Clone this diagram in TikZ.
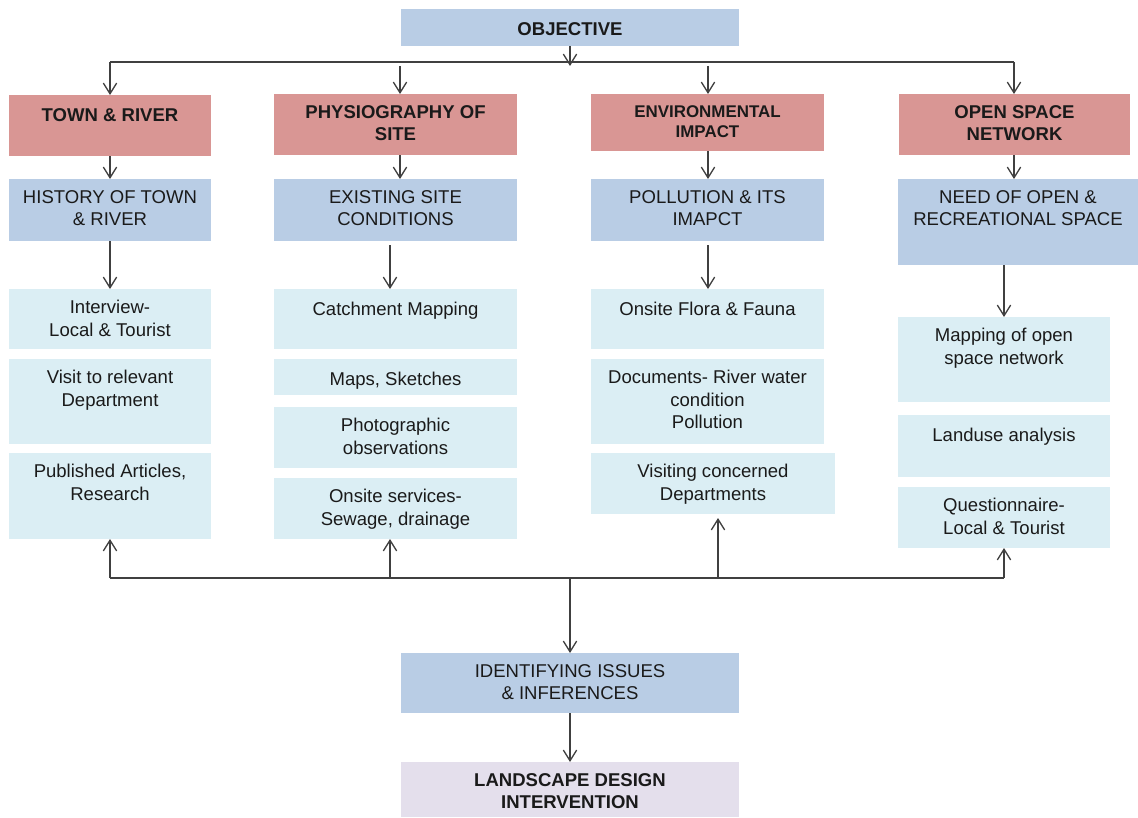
\documentclass[tikz,border=0pt]{standalone}
\usepackage{fontspec}
\setmainfont{Liberation Sans}
\usetikzlibrary{arrows.meta,fit}
\definecolor{cblue}{HTML}{B9CDE5}
\definecolor{cred}{HTML}{D99694}
\definecolor{clight}{HTML}{DBEEF4}
\definecolor{clav}{HTML}{E4DFEC}
\definecolor{cline}{HTML}{404040}
\definecolor{ctext}{HTML}{1A1A1A}
\begin{document}
\begin{tikzpicture}[x=0.75pt,y=-0.75pt,
  bx/.style={inner sep=0pt, outer sep=0pt, draw=none},
  bluebox/.style={bx, fill=cblue},
  redbox/.style={bx, fill=cred},
  lightbox/.style={bx, fill=clight},
  lavbox/.style={bx, fill=clav},
  tx/.style={anchor=north, inner sep=0pt, yshift=-8.2pt, align=center, text=ctext,
    font=\fontsize{13.9}{16.9}\selectfont, execute at begin node=\strut},
  tb/.style={tx, font=\fontsize{13.9}{16.9}\selectfont\bfseries},
  arr/.style={draw=cline, line width=1pt, -{Straight Barb[length=8pt,width=10pt]}},
  ln/.style={draw=cline, line width=1pt}]
\useasboundingbox (0,0) rectangle (1138,817);

% top
\node[bluebox, fit={(401,9)(739,46)}, label={[tb]north:{OBJECTIVE}}] (obj) {};

% red titles
\node[redbox, fit={(9,95)(211,156)}, label={[tb]north:{TOWN \& RIVER}}] (tr) {};
\node[redbox, fit={(274,94)(517,155)}, label={[tb]north:{PHYSIOGRAPHY OF\\SITE}}] (ps) {};
\node[redbox, fit={(591,94)(824,151)}, label={[tb,font=\fontsize{12.7}{15.2}\selectfont\bfseries]north:{ENVIRONMENTAL\\IMPACT}}] (en) {};
\node[redbox, fit={(899,94)(1130,155)}, label={[tb]north:{OPEN SPACE\\NETWORK}}] (os) {};

% blue
\node[bluebox, fit={(9,179)(211,241)}, label={[tx]north:{HISTORY OF TOWN\\\& RIVER}}] (hi) {};
\node[bluebox, fit={(274,179)(517,241)}, label={[tx]north:{EXISTING SITE\\CONDITIONS}}] (ex) {};
\node[bluebox, fit={(591,179)(824,241)}, label={[tx]north:{POLLUTION \& ITS\\IMAPCT}}] (po) {};
\node[bluebox, fit={(898,179)(1138,265)}, label={[tx]north:{NEED OF OPEN \&\\RECREATIONAL SPACE}}] (nd) {};

% column 1
\node[lightbox, fit={(9,289)(211,349)}, label={[tx]north:{Interview-\\Local \& Tourist}}] (c1a) {};
\node[lightbox, fit={(9,359)(211,444)}, label={[tx]north:{Visit to relevant\\Department}}] (c1b) {};
\node[lightbox, fit={(9,453)(211,539)}, label={[tx]north:{Published Articles,\\Research}}] (c1c) {};

% column 2
\node[lightbox, fit={(274,289)(517,349)}, label={[tx]north:{Catchment Mapping}}] (c2a) {};
\node[lightbox, fit={(274,359)(517,395)}, label={[tx]north:{Maps, Sketches}}] (c2b) {};
\node[lightbox, fit={(274,407)(517,468)}, label={[tx]north:{Photographic\\observations}}] (c2c) {};
\node[lightbox, fit={(274,478)(517,539)}, label={[tx]north:{Onsite services-\\Sewage, drainage}}] (c2d) {};

% column 3
\node[lightbox, fit={(591,289)(824,349)}, label={[tx]north:{Onsite Flora \& Fauna}}] (c3a) {};
\node[lightbox, fit={(591,359)(824,444)}, label={[tx]north:{Documents- River water\\condition\\Pollution}}] (c3b) {};
\node[lightbox, fit={(591,453)(835,514)}, label={[tx]north:{Visiting concerned\\Departments}}] (c3c) {};

% column 4
\node[lightbox, fit={(898,317)(1110,402)}, label={[tx]north:{Mapping of open\\space network}}] (c4a) {};
\node[lightbox, fit={(898,415)(1110,477)}, label={[tx]north:{Landuse analysis}}] (c4b) {};
\node[lightbox, fit={(898,487)(1110,548)}, label={[tx]north:{Questionnaire-\\Local \& Tourist}}] (c4c) {};

% bottom
\node[bluebox, fit={(401,653)(739,713)}, label={[tx]north:{IDENTIFYING ISSUES\\\& INFERENCES}}] (id) {};
\node[lavbox, fit={(401,762)(739,817)}, label={[tb]north:{LANDSCAPE DESIGN\\INTERVENTION}}] (ld) {};

% coordinates
\coordinate (oa) at (570,66);
\coordinate (bl) at (110,62);
\coordinate (br) at (1014,62);
\coordinate (p1) at (400,66);
\coordinate (e1) at (708,66);
\coordinate (x2) at (390,245);
\coordinate (x3) at (708,245);
\coordinate (bb1) at (110,578);
\coordinate (bb2) at (390,578);
\coordinate (bb3) at (718,578);
\coordinate (bb4) at (1004,578);
\coordinate (t3) at (718,518);
\coordinate (bm) at (570,577);

% top connectors
\draw[arr] (obj.south) -- (oa);
\draw[ln] (bl) -- (br);
\draw[arr] (bl) -- (tr.north);
\draw[arr] (br) -- (br |- os.north);
\draw[arr] (p1) -- (p1 |- ps.north);
\draw[arr] (e1) -- (e1 |- en.north);

% red -> blue
\draw[arr] (tr.south) -- (hi.north);
\draw[arr] (p1 |- ps.south) -- (p1 |- ex.north);
\draw[arr] (e1 |- en.south) -- (e1 |- po.north);
\draw[arr] (br |- os.south) -- (br |- nd.north);

% blue -> light
\draw[arr] (hi.south) -- (c1a.north);
\draw[arr] (x2) -- (x2 |- c2a.north);
\draw[arr] (x3) -- (x3 |- c3a.north);
\draw[arr] (c4a.north |- nd.south) -- (c4a.north);

% bottom bus
\draw[ln] (bb1) -- (bb4);
\draw[arr] (bb1) -- (c1c.south);
\draw[arr] (bb2) -- (bb2 |- c2d.south);
\draw[arr] (bb3) -- (t3);
\draw[arr] (bb4) -- (c4c.south);
\draw[arr] (bm) -- (id.north);
\draw[arr] (id.south) -- (ld.north);
\end{tikzpicture}
\end{document}
